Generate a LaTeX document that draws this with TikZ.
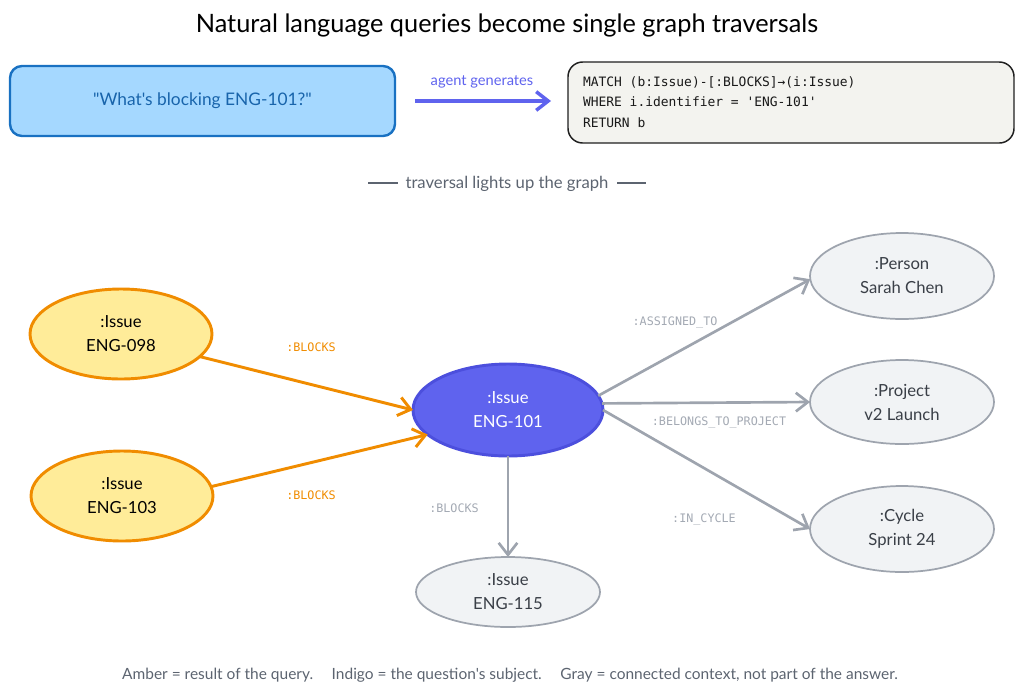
\documentclass[tikz,border=0pt]{standalone}
\usepackage{fontspec}
\setmainfont{Lato}[Ligatures=TeXOff]
\setmonofont{DejaVu Sans Mono}
\usetikzlibrary{arrows.meta,shapes.geometric}
\definecolor{bluefill}{HTML}{A5D8FF}
\definecolor{bluestroke}{HTML}{1971C2}
\definecolor{bluetext}{HTML}{1864AB}
\definecolor{indigo}{HTML}{5F63EE}
\definecolor{indigostroke}{HTML}{4C4FDD}
\definecolor{amberfill}{HTML}{FFEC99}
\definecolor{amberstroke}{HTML}{F08C00}
\definecolor{grayfill}{HTML}{F1F3F5}
\definecolor{graystroke}{HTML}{9EA4AE}
\definecolor{graylabel}{HTML}{A3A9B3}
\definecolor{graytext}{HTML}{3A3F47}
\definecolor{codefill}{HTML}{F3F3EF}
\definecolor{sectext}{HTML}{5C6470}
\tikzset{
  every node/.style={inner sep=0pt, outer sep=0pt},
  nodetext/.style={font=\fontsize{12.5}{18}\selectfont, align=center},
  ambernode/.style={ellipse, draw=amberstroke, fill=amberfill, line width=2.2pt, minimum width=136.5pt, minimum height=67.5pt, nodetext, text=black},
  indigonode/.style={ellipse, draw=indigostroke, fill=indigo, line width=2.2pt, minimum width=142.5pt, minimum height=69pt, nodetext, text=white},
  graynode/.style={ellipse, draw=graystroke, fill=grayfill, line width=1.3pt, minimum width=138pt, minimum height=64.5pt, nodetext, text=graytext},
  ambere/.style={draw=amberstroke, line width=2.2pt, -{Straight Barb[length=9pt, width=14pt, line width=2.2pt]}},
  graye/.style={draw=graystroke, line width=2pt, -{Straight Barb[length=9pt, width=14pt, line width=2pt]}},
  amberlab/.style={font=\ttfamily\fontsize{8.8}{10}\selectfont, text=amberstroke},
  graylab/.style={font=\ttfamily\fontsize{8.8}{10}\selectfont, text=graylabel},
}
\begin{document}
\begin{tikzpicture}[x=0.75pt, y=-0.75pt]
\useasboundingbox (0,0) rectangle (1024,697);
% title
\node (title) at (507,25) {\fontsize{19}{22}\selectfont Natural language queries become single graph traversals};
% question box
\node[draw=bluestroke, fill=bluefill, line width=1.8pt, rounded corners=9pt, minimum width=288.75pt, minimum height=52.5pt, text=bluetext, font=\fontsize{13}{16}\selectfont] (q) at (202.5,101) {"What's blocking ENG-101?"};
% code box
\node[draw=black!88, fill=codefill, line width=1.1pt, rounded corners=11pt, minimum width=334.5pt, minimum height=60.75pt] (code) at (791,102.5) {};
\node[anchor=west, align=left, font=\ttfamily\fontsize{9.7}{15.4}\selectfont, text=black!90] (codetext) at (583,102) {MATCH (b:Issue)-[:BLOCKS]→(i:Issue)\\WHERE i.identifier = 'ENG-101'\\RETURN b};
% agent generates arrow
\coordinate (ga) at (415,101);
\coordinate (gb) at (551,101);
\draw[draw=indigo, line width=3pt, -{Straight Barb[length=9pt, width=14pt, line width=2.6pt]}] (ga) -- (gb);
\node[text=indigo, font=\fontsize{11}{13}\selectfont] (aglab) at (482,82) {agent generates};
% section label
\node[text=sectext, font=\fontsize{12.5}{14}\selectfont] (sec) at (507,184) {traversal lights up the graph};
\coordinate (s1a) at (368,183); \coordinate (s1b) at (398,183);
\coordinate (s2a) at (617,183); \coordinate (s2b) at (646,183);
\draw[sectext, line width=0.9pt] (s1a) -- (s1b);
\draw[sectext, line width=0.9pt] (s2a) -- (s2b);
% nodes
\node[ambernode] (n098) at (121,334) {:Issue\\ENG-098};
\node[ambernode] (n103) at (122,496) {:Issue\\ENG-103};
\node[indigonode] (n101) at (508,410) {:Issue\\ENG-101};
\node[graynode, minimum height=52.5pt] (n115) at (508,592) {:Issue\\ENG-115};
\node[graynode] (per) at (902,276) {:Person\\Sarah Chen};
\node[graynode, minimum height=63pt] (proj) at (902,402) {:Project\\v2 Launch};
\node[graynode] (cyc) at (902,529) {:Cycle\\Sprint 24};
% edges
\draw[ambere] (n098.-16) -- (n101.180);
\draw[ambere] (n103.6) -- (n101.197);
\draw[graye] (n101.9) -- (per.182);
\draw[graye] (n101.4) -- (proj.180);
\draw[graye] (n101.0) -- (cyc.180);
\draw[graye] (n101) -- (n115);
% labels
\node[amberlab] (l1) at (311,347) {:BLOCKS};
\node[amberlab] (l2) at (311,495) {:BLOCKS};
\node[graylab] (l3) at (675,323) {:ASSIGNED\_TO};
\node[graylab] (l4) at (719,423) {:BELONGS\_TO\_PROJECT};
\node[graylab] (l5) at (704,520) {:IN\_CYCLE};
\node[graylab] (l6) at (454,508) {:BLOCKS};
% footer
\node[text=sectext, font=\fontsize{11.6}{13}\selectfont] (foot) at (510,675) {Amber = result of the query.\hspace{1.2em}Indigo = the question's subject.\hspace{1.2em}Gray = connected context, not part of the answer.};
\end{tikzpicture}
\end{document}
